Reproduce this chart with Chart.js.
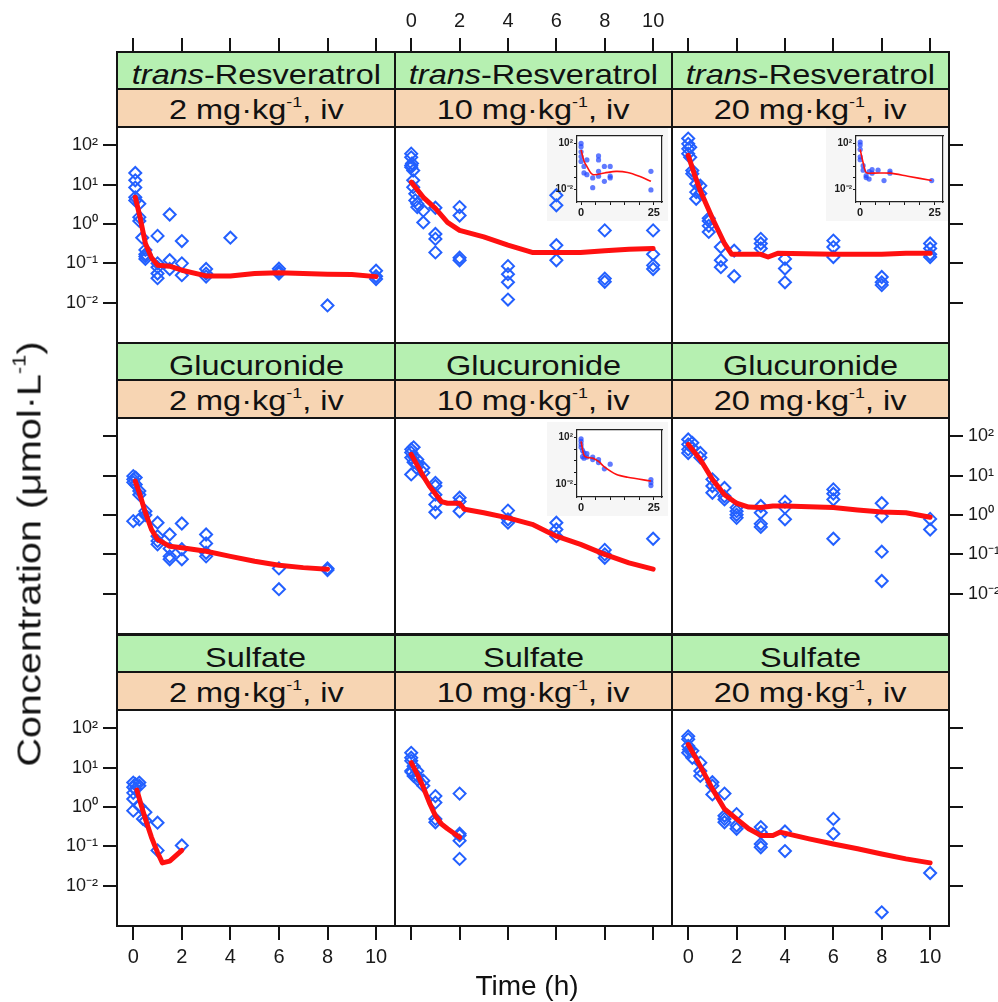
<!DOCTYPE html>
<html><head><meta charset="utf-8">
<script src="https://cdn.jsdelivr.net/npm/chart.js@4.4.1/dist/chart.umd.min.js"></script>
<style>
html,body{margin:0;padding:0;background:#fff;}
#root{position:relative;width:998px;height:1002px;overflow:hidden;font-family:"Liberation Sans",Arial,sans-serif;color:#111;}
#root canvas{position:absolute;}
.strip{position:absolute;box-sizing:border-box;border:2px solid #141414;display:flex;align-items:center;justify-content:center;white-space:nowrap;z-index:2;font-size:28px;line-height:1;}
.strip span{display:inline-block;transform:scaleX(1.16);position:relative;}
.strip sup{font-size:0.55em;line-height:0;vertical-align:0.8em;}
.green{background:#b6f0b1;}
.orange{background:#f7d5b3;}
.title{position:absolute;white-space:nowrap;line-height:1;z-index:5;color:#111;}
.title sup{font-size:0.55em;line-height:0;vertical-align:0.8em;}
.insetbg{position:absolute;background:rgba(0,0,0,0.035);z-index:0;}
</style></head>
<body><div id="root">
<div class="title" id="ytitle" style="left:29px;top:554px;font-size:33px;transform:translate(-50%,-50%) rotate(-90deg) scaleX(1.2);">Concentration (μmol·L<sup>-1</sup>)</div>
<div class="title" id="xtitle" style="left:527px;top:972px;font-size:28px;transform:translateX(-50%);">Time (h)</div>
</div>
<script>
// ---------------- data ----------------
const compounds = ['trans-Resveratrol', 'Glucuronide', 'Sulfate'];
const doses = [2, 10, 20];
const xTicks = [0, 2, 4, 6, 8, 10];
const xTickLabels = ['0', '2', '4', '6', '8', '10'];
const yTicks = [0.01, 0.1, 1, 10, 100];
const yTickLabels = ['10⁻²', '10⁻¹', '10⁰', '10¹', '10²'];
const insetXTicks = [0, 5, 10, 15, 20, 25];
const insetXLabels = ['0', '', '', '', '', '25'];
const insetYTicks = [0.01, 0.1, 1, 10, 100];
const insetYLabels = ['10⁻²', '', '', '', '10²'];

// trans-Resveratrol 2 mg/kg
const resv2Time = [0.083,0.083,0.083,0.083,0.083, 0.25,0.25,0.25, 0.37, 0.5,0.5,0.5,0.5, 1,1,1,1,1, 1.5,1.5,1.5, 2,2,2, 3,3,3, 4, 6,6,6, 8, 10,10,10];
const resv2Conc = [20,13,8.5,4.8,4, 3.3,1.5,1.2, 0.45, 0.22,0.17,0.15,0.13, 0.5,0.1,0.08,0.055,0.042, 1.75,0.12,0.072, 0.37,0.1,0.05, 0.072,0.055,0.046, 0.45, 0.073,0.062,0.055, 0.0085, 0.065,0.047,0.04];
const resv2FitTime = [0.083,0.25,0.5,0.75,1,1.5,2,3,4,5,6,7,8,9,10];
const resv2FitConc = [4.8,1.8,0.32,0.14,0.09,0.085,0.067,0.048,0.048,0.055,0.058,0.055,0.053,0.052,0.046];
// trans-Resveratrol 10 mg/kg
const resv10Time = [0,0,0,0, 0.033, 0.083,0.083,0.083, 0.17,0.17, 0.25,0.25, 0.5,0.5, 1,1,1,1, 2,2,2,2, 4,4,4,4, 6,6,6,6, 8,8,8, 10,10,10,10];
const resv10Conc = [62,50,31,28, 35, 23,13,8.7, 5.9,4, 3.3,2.7, 2.2,1.1, 2.6,0.56,0.42,0.19, 2.7,1.65,0.14,0.12, 0.085,0.053,0.033,0.012, 5.4,3.0,0.29,0.12, 0.69,0.041,0.034, 0.69,0.17,0.089,0.072];
const resv10FitTime = [0,0.5,1,1.5,2,3,4,5,6,7,8,9,10];
const resv10FitConc = [11.7,4.8,2.5,1.1,0.69,0.47,0.29,0.19,0.19,0.19,0.21,0.23,0.24];
// trans-Resveratrol 20 mg/kg
const resv20Time = [0,0,0,0, 0.083,0.083, 0.17,0.17, 0.33,0.33,0.33, 0.5,0.5, 0.85,0.85,0.85,0.85, 1.35,1.35,1.35, 1.9,1.9, 3,3,3, 4,4,4, 6,6,6, 8,8,8, 10,10,10,10];
const resv20Conc = [150,110,82,62, 90,50, 23,19, 10.5,6.5,4.4, 9.5,6, 1.4,1.2,0.9,0.63, 0.26,0.12,0.08, 0.21,0.047, 0.42,0.32,0.24, 0.13,0.074,0.033, 0.38,0.26,0.145, 0.045,0.033,0.028, 0.32,0.24,0.17,0.145];
const resv20FitTime = [0,0.25,0.5,1,1.5,1.8,3,3.3,3.7,6,8,9,10];
const resv20FitConc = [56,19,7,1.4,0.32,0.17,0.17,0.145,0.18,0.17,0.17,0.18,0.18];
// Glucuronide 2 mg/kg
const gluc2Time = [0,0,0,0, 0.1,0.1, 0.25,0.25,0.25, 0.5,0.5, 1,1,1,1, 1.5,1.5,1.5,1.5, 2,2,2, 3,3,3,3, 6,6, 8,8];
const gluc2Conc = [9.8,8.1,6.8,0.7, 9,6, 4.1,3.3,0.78, 1.26,1.0, 0.64,0.29,0.22,0.18, 0.32,0.14,0.089,0.075, 0.61,0.135,0.075, 0.32,0.19,0.11,0.089, 0.044,0.013, 0.044,0.04];
const gluc2FitTime = [0.083,0.25,0.5,0.75,1,1.5,2,3,4,5,6,7,8];
const gluc2FitConc = [7.3,3.7,1.15,0.43,0.24,0.16,0.148,0.12,0.089,0.067,0.053,0.046,0.042];
// Glucuronide 10 mg/kg
const gluc10Time = [0,0,0,0, 0.1,0.1,0.1, 0.25,0.25, 0.5,0.5, 1,1,1,1,1, 2,2,2, 4,4,4, 6,6,6, 8,8,8, 10];
const gluc10Conc = [47,39,29,10.8, 53,31,22, 26,19.5, 16,12, 6.6,5.5,3.3,1.87,1.18, 2.76,2.2,1.25, 1.3,0.78,0.64, 0.64,0.43,0.29, 0.13,0.1,0.082, 0.25];
const gluc10FitTime = [0,0.5,0.75,1.25,1.5,2,2.2,3,4,5,6,7,8,9,10];
const gluc10FitConc = [35,9.8,5.5,2.2,2.0,2.0,1.4,1.15,0.85,0.58,0.29,0.18,0.1,0.061,0.042];
// Glucuronide 20 mg/kg
const gluc20Time = [0,0,0,0, 0.17,0.17, 0.5,0.5, 1,1,1, 1.5,1.5,1.5, 2,2,2,2, 3,3,3,3, 4,4,4, 6,6,6,6, 8,8,8,8, 10,10];
const gluc20Conc = [84,63,47,38, 69,51, 38,29, 8.1,5.5,3.7, 4.9,3.0,2.5, 1.55,1.26,1.02,0.85, 1.7,1.15,0.6,0.5, 2.2,1.55,0.78, 4.5,3.5,2.5,0.25, 2.0,0.93,0.117,0.021, 0.8,0.43];
const gluc20FitTime = [0,0.5,1,1.5,2,2.5,3,3.5,4,6,7,8,9,10];
const gluc20FitConc = [63,26,8.1,3.3,2.0,1.6,1.55,1.7,1.7,1.55,1.35,1.2,1.15,0.88];
// Sulfate 2 mg/kg
const sulf2Time = [0,0,0,0,0, 0.083,0.083, 0.25,0.25,0.25, 0.4, 0.5,0.5, 1,1, 2];
const sulf2Conc = [4.2,3.2,2.3,1.6,0.81, 3.8,2.9, 4.2,3.5,1.07, 0.5, 0.74,0.45, 0.4,0.079, 0.105];
const sulf2FitTime = [0.15,0.35,0.5,0.75,1,1.2,1.5,2];
const sulf2FitConc = [2.7,1.0,0.5,0.17,0.07,0.038,0.042,0.079];
// Sulfate 10 mg/kg
const sulf10Time = [0,0,0,0, 0.02, 0.1,0.1, 0.25,0.25,0.25, 0.5,0.5, 1,1,1,1, 2,2,2,2,2];
const sulf10Conc = [24,18,15,8.3, 7.7, 11,6.2, 8.3,6.2,5.1, 4.7,3.5, 1.9,1.3,0.5,0.41, 2.2,0.21,0.19,0.14,0.048];
const sulf10FitTime = [0,0.25,0.5,0.75,1,1.25,1.5,2];
const sulf10FitConc = [13.5,6.9,3.2,1.3,0.6,0.37,0.28,0.17];
// Sulfate 20 mg/kg
const sulf20Time = [0,0,0,0, 0.03, 0.17,0.17, 0.5,0.5,0.5, 1,1,1, 1.5,1.5,1.5,1.5, 2,2,2, 3,3,3,3, 4,4, 6,6, 8, 10];
const sulf20Conc = [63,53,36,24, 29, 27,18, 13.5,8.3,6.2, 4.3,3.5,2.1, 2.2,0.6,0.5,0.41, 0.66,0.34,0.28, 0.31,0.23,0.115,0.095, 0.24,0.076, 0.5,0.21, 0.0021, 0.021];
const sulf20FitTime = [0,0.5,1,1.5,2,2.5,3,3.5,3.8,5,6,7,8,9,10];
const sulf20FitConc = [39,11,2.9,0.89,0.5,0.28,0.19,0.19,0.23,0.155,0.115,0.087,0.064,0.048,0.038];

// insets (0-25 h)
const insetResv10Time = [0,0,0,0,0, 1,1, 2,2, 4,4, 6,6,6,6, 8,8, 10,10,10, 24,24];
const insetResv10Conc = [100,52,19,7.2,2.7, 1,0.27, 3.7,0.19, 0.1,0.014, 8.2,3.7,0.37,0.14, 1,0.05, 1,0.14,0.1, 0.37,0.009];
const insetResv10FitTime = [0,1,2,4,8,12,16,20,24];
const insetResv10FitConc = [27,3,1,0.2,0.27,0.37,0.3,0.14,0.05];
const insetResv20Time = [0,0,0,0,0, 1,1, 2,2, 3,3, 4,4, 6, 8, 10,10, 24];
const insetResv20Conc = [134,74,30,6.9,3.8, 1.15,0.47, 0.16,0.107, 0.35,0.079, 0.54,0.26, 0.47, 0.059, 0.4,0.26, 0.059];
const insetResv20FitTime = [0,1,2,4,10,16,24];
const insetResv20FitConc = [30,2.1,0.29,0.26,0.26,0.14,0.059];
const insetGluc10Time = [0,0,0,0, 0.5,0.5, 1,1, 2,2, 4,4, 6,6, 8, 10, 24,24,24];
const insetGluc10Conc = [79,48,26,14.5, 7.9,2.3, 4.9,1.7, 4.3,2.1, 2.1,1.3, 1.3,0.71, 0.21, 0.52, 0.025,0.014,0.0076];
const insetGluc10FitTime = [0,1,2,4,6,8,12,16,24];
const insetGluc10FitConc = [48,3.0,2.0,1.7,0.9,0.3,0.07,0.039,0.019];

// ---------------- layout ----------------
const root = document.getElementById('root');
const FONT = '"Liberation Sans", Arial, Helvetica, sans-serif';
const INK = '#141414';
const RED = '#ff1010';
const BLUE = '#2360ff';
const COL_L = [117, 395, 672], COL_R = [395, 672, 949];
const PLOT_TOP = [127, 418, 710], PLOT_H = 216, STRIP_H = 75;
const PX_PER_DEC = 39.3, LOG_TOP = 2.47, LOG_BOT = LOG_TOP - PLOT_H / PX_PER_DEC;
const X_MIN = -0.67, X_MAX = 10.78;
const M = {l: 72, r: 72, t: 50, b: 50};

function xy(ts, cs) { return ts.map((t, i) => ({x: t, y: cs[i]})); }
function yLabel(v, ticks, labels) {
  const i = ticks.findIndex(t => Math.abs(Math.log10(t) - Math.log10(v)) < 1e-6);
  return i >= 0 ? labels[i] : '';
}
function gridOpts(show, len, w) {
  return {display: true, drawOnChartArea: false, drawTicks: show, tickLength: len, tickWidth: w, tickColor: INK, color: INK, lineWidth: w};
}

// strips
for (let r = 0; r < 3; r++) {
  for (let c = 0; c < 3; c++) {
    const g = document.createElement('div');
    g.className = 'strip green';
    g.style.left = (COL_L[c] - 1) + 'px'; g.style.width = (COL_R[c] - COL_L[c] + 2) + 'px';
    g.style.top = (PLOT_TOP[r] - STRIP_H - 1) + 'px'; g.style.height = '39px';
    const name = compounds[r];
    const html = name.startsWith('trans-') ? '<i>trans</i>-' + name.slice(6) : name;
    g.innerHTML = '<span style="top:4px">' + html + '</span>';
    root.appendChild(g);
    const o = document.createElement('div');
    o.className = 'strip orange';
    o.style.left = (COL_L[c] - 1) + 'px'; o.style.width = (COL_R[c] - COL_L[c] + 2) + 'px';
    o.style.top = (PLOT_TOP[r] - 39) + 'px'; o.style.height = '40px';
    o.innerHTML = '<span style="top:2px">' + doses[c] + ' mg·kg<sup>-1</sup>, iv</span>';
    root.appendChild(o);
  }
}

function makePanel(col, row, times, concs, fitT, fitC) {
  const w = COL_R[col] - COL_L[col];
  const areaTop = row === 0 ? PLOT_TOP[0] - STRIP_H : PLOT_TOP[row];
  const areaBot = PLOT_TOP[row] + PLOT_H;
  const logMax = LOG_TOP + (PLOT_TOP[row] - areaTop) / PX_PER_DEC;
  const cv = document.createElement('canvas');
  cv.width = w + M.l + M.r; cv.height = (areaBot - areaTop) + M.t + M.b;
  cv.style.left = (COL_L[col] - M.l) + 'px'; cv.style.top = (areaTop - M.t) + 'px'; cv.style.zIndex = 1;
  root.appendChild(cv);
  const xAx = (pos, showT, showL) => ({
    type: 'linear', position: pos, min: X_MIN, max: X_MAX,
    afterBuildTicks: s => { s.ticks = xTicks.map(v => ({value: v})); },
    afterFit: s => { s.height = pos === 'top' ? M.t : M.b; },
    ticks: {display: showL, autoSkip: false, maxRotation: 0, padding: 5, color: '#1a1a1a',
      font: {family: FONT, size: 20}, callback: v => { const i = xTicks.indexOf(v); return i >= 0 ? xTickLabels[i] : ''; }},
    grid: gridOpts(showT, 14, 2), border: {display: true, color: INK, width: 2}
  });
  const yAx = (pos, showT, showL) => ({
    type: 'logarithmic', position: pos, min: Math.pow(10, LOG_BOT), max: Math.pow(10, logMax),
    afterBuildTicks: s => { s.ticks = yTicks.map(v => ({value: v})); },
    afterFit: s => { s.width = pos === 'left' ? M.l : M.r; },
    ticks: {display: showL, autoSkip: false, padding: 5, color: '#1a1a1a',
      font: {family: FONT, size: 18}, callback: v => yLabel(v, yTicks, yTickLabels)},
    grid: gridOpts(showT, 14, 2), border: {display: true, color: INK, width: 2}
  });
  new Chart(cv, {
    type: 'scatter',
    data: {datasets: [
      {type: 'line', data: xy(fitT, fitC), borderColor: RED, borderWidth: 5, pointRadius: 0, tension: 0,
        borderJoinStyle: 'round', borderCapStyle: 'round', fill: false, order: 0},
      {type: 'scatter', data: xy(times, concs), pointStyle: 'rectRot', pointRadius: 6, pointBorderWidth: 2,
        pointBorderColor: BLUE, pointBackgroundColor: 'rgba(0,0,0,0)', order: 1}
    ]},
    options: {
      responsive: false, animation: false, events: [], layout: {padding: 0},
      plugins: {legend: {display: false}, tooltip: {enabled: false}},
      scales: {
        x: xAx('bottom', row === 2, row === 2 && col !== 1),
        x2: xAx('top', row === 0, row === 0 && col === 1),
        y: yAx('left', col === 0, col === 0 && row !== 1),
        y2: yAx('right', col === 2, col === 2 && row === 1)
      }
    }
  });
}

const whiteArea = {id: 'whiteArea', beforeDraw(c) {
  const a = c.chartArea, ctx = c.ctx; ctx.save(); ctx.fillStyle = '#ffffff';
  ctx.fillRect(a.left, a.top, a.right - a.left, a.bottom - a.top); ctx.restore();
}};

function makeInset(box, times, concs, fitT, fitC) {
  const IM = {l: 30, r: 4, t: 4, b: 18};
  const bg = document.createElement('div');
  bg.className = 'insetbg';
  bg.style.left = (box.l - 30) + 'px'; bg.style.top = (box.t - 5) + 'px';
  bg.style.width = (box.w + 36) + 'px'; bg.style.height = (box.h + 24) + 'px';
  root.appendChild(bg);
  const cv = document.createElement('canvas');
  cv.width = box.w + IM.l + IM.r; cv.height = box.h + IM.t + IM.b;
  cv.style.left = (box.l - IM.l) + 'px'; cv.style.top = (box.t - IM.t) + 'px'; cv.style.zIndex = 3;
  root.appendChild(cv);
  const f = {family: FONT, size: 11, weight: 'bold'};
  const xAx = (pos, show) => ({
    type: 'linear', position: pos, min: -1.4, max: 27.8,
    afterBuildTicks: s => { s.ticks = insetXTicks.map(v => ({value: v})); },
    afterFit: s => { s.height = pos === 'top' ? IM.t : IM.b; },
    ticks: {display: show, autoSkip: false, maxRotation: 0, padding: 1, color: '#1a1a1a', font: f,
      callback: v => { const i = insetXTicks.indexOf(v); return i >= 0 ? insetXLabels[i] : ''; }},
    grid: gridOpts(show, 3, 1), border: {display: true, color: '#222', width: 1.2}
  });
  const yAx = (pos, show) => ({
    type: 'logarithmic', position: pos, min: Math.pow(10, -3.1), max: Math.pow(10, 2.65),
    afterBuildTicks: s => { s.ticks = insetYTicks.map(v => ({value: v})); },
    afterFit: s => { s.width = pos === 'left' ? IM.l : IM.r; },
    ticks: {display: show, autoSkip: false, padding: 1, color: '#1a1a1a', font: {family: FONT, size: 10, weight: 'bold'},
      callback: v => yLabel(v, insetYTicks, insetYLabels)},
    grid: gridOpts(show, 3, 1), border: {display: true, color: '#222', width: 1.2}
  });
  new Chart(cv, {
    type: 'scatter',
    data: {datasets: [
      {type: 'line', data: xy(fitT, fitC), borderColor: RED, borderWidth: 1.6, pointRadius: 0, tension: 0.3, fill: false, order: 0},
      {type: 'scatter', data: xy(times, concs), pointStyle: 'circle', pointRadius: 2.6, pointBorderWidth: 0,
        pointBackgroundColor: 'rgba(35,70,255,0.72)', order: 1}
    ]},
    options: {
      responsive: false, animation: false, events: [], layout: {padding: 0},
      plugins: {legend: {display: false}, tooltip: {enabled: false}},
      scales: {x: xAx('bottom', true), x2: xAx('top', false), y: yAx('left', true), y2: yAx('right', false)}
    },
    plugins: [whiteArea]
  });
}

makePanel(0, 0, resv2Time, resv2Conc, resv2FitTime, resv2FitConc);
makePanel(1, 0, resv10Time, resv10Conc, resv10FitTime, resv10FitConc);
makePanel(2, 0, resv20Time, resv20Conc, resv20FitTime, resv20FitConc);
makePanel(0, 1, gluc2Time, gluc2Conc, gluc2FitTime, gluc2FitConc);
makePanel(1, 1, gluc10Time, gluc10Conc, gluc10FitTime, gluc10FitConc);
makePanel(2, 1, gluc20Time, gluc20Conc, gluc20FitTime, gluc20FitConc);
makePanel(0, 2, sulf2Time, sulf2Conc, sulf2FitTime, sulf2FitConc);
makePanel(1, 2, sulf10Time, sulf10Conc, sulf10FitTime, sulf10FitConc);
makePanel(2, 2, sulf20Time, sulf20Conc, sulf20FitTime, sulf20FitConc);

makeInset({l: 577, t: 133, w: 85, h: 69}, insetResv10Time, insetResv10Conc, insetResv10FitTime, insetResv10FitConc);
makeInset({l: 856, t: 133, w: 87, h: 69}, insetResv20Time, insetResv20Conc, insetResv20FitTime, insetResv20FitConc);
makeInset({l: 577, t: 427, w: 85, h: 70}, insetGluc10Time, insetGluc10Conc, insetGluc10FitTime, insetGluc10FitConc);
</script>
</body></html>
